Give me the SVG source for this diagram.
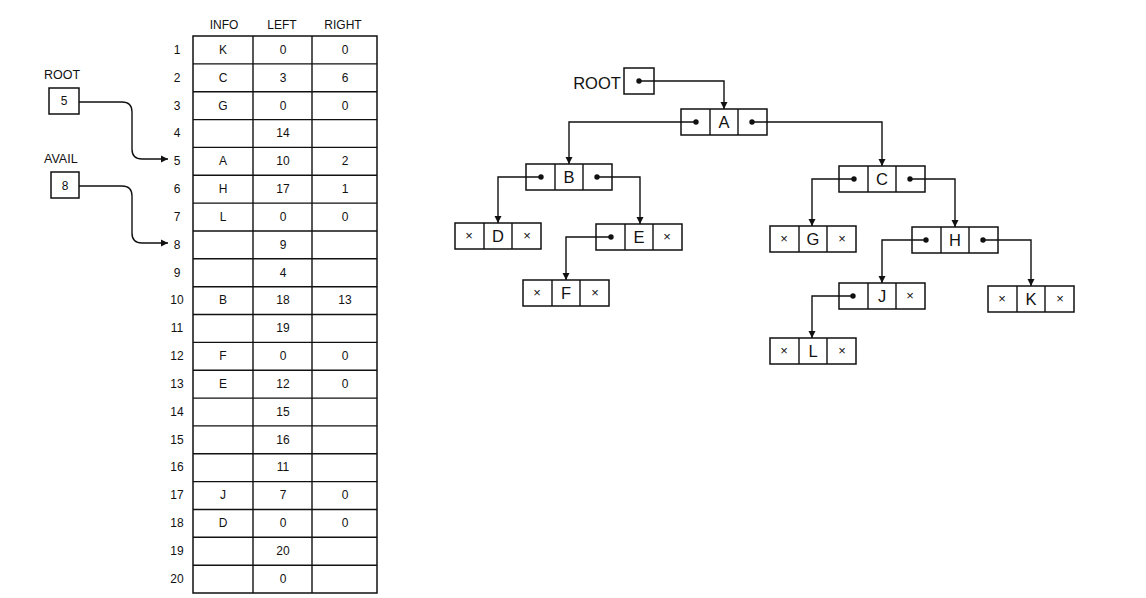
<svg xmlns="http://www.w3.org/2000/svg" width="1146" height="598" viewBox="0 0 1146 598">
<style>
text{font-family:"Liberation Sans",Arial,sans-serif;fill:#111}
.h{font-size:12px;text-anchor:middle}
.n{font-size:12px;text-anchor:middle}
.c{font-size:12px;text-anchor:middle}
.lbl{font-size:12.5px}
.t{font-size:16.5px;text-anchor:middle}
.x{font-size:13px;text-anchor:middle}
.box{fill:#fff;stroke:#111;stroke-width:1.5}
.ln{fill:none;stroke:#111;stroke-width:1.4}
.dot{fill:#111}
</style>
<defs>
<marker id="ah" viewBox="0 0 10 10" refX="10" refY="5" markerWidth="7" markerHeight="8" markerUnits="userSpaceOnUse" orient="auto">
<path d="M0,0 L10,5 L0,10 z" fill="#111"/>
</marker>
<g id="cells">
<rect class="box" x="0" y="0" width="86" height="26"/>
<line class="ln" x1="29" y1="0" x2="29" y2="26"/>
<line class="ln" x1="57" y1="0" x2="57" y2="26"/>
</g>
</defs>
<rect width="1146" height="598" fill="#fff"/>

<g id="table">
<text class="h" x="224" y="29">INFO</text>
<text class="h" x="282" y="29">LEFT</text>
<text class="h" x="343" y="29">RIGHT</text>
<rect x="193" y="36" width="184" height="557" fill="none" stroke="#111" stroke-width="1.5"/>
<line class="ln" x1="253" y1="36" x2="253" y2="593"/>
<line class="ln" x1="312" y1="36" x2="312" y2="593"/>
<g class="ln">
<line x1="193" y1="63.9" x2="377" y2="63.9"/>
<line x1="193" y1="91.7" x2="377" y2="91.7"/>
<line x1="193" y1="119.6" x2="377" y2="119.6"/>
<line x1="193" y1="147.4" x2="377" y2="147.4"/>
<line x1="193" y1="175.3" x2="377" y2="175.3"/>
<line x1="193" y1="203.1" x2="377" y2="203.1"/>
<line x1="193" y1="231" x2="377" y2="231"/>
<line x1="193" y1="258.8" x2="377" y2="258.8"/>
<line x1="193" y1="286.7" x2="377" y2="286.7"/>
<line x1="193" y1="314.5" x2="377" y2="314.5"/>
<line x1="193" y1="342.4" x2="377" y2="342.4"/>
<line x1="193" y1="370.2" x2="377" y2="370.2"/>
<line x1="193" y1="398.1" x2="377" y2="398.1"/>
<line x1="193" y1="425.9" x2="377" y2="425.9"/>
<line x1="193" y1="453.8" x2="377" y2="453.8"/>
<line x1="193" y1="481.6" x2="377" y2="481.6"/>
<line x1="193" y1="509.5" x2="377" y2="509.5"/>
<line x1="193" y1="537.3" x2="377" y2="537.3"/>
<line x1="193" y1="565.2" x2="377" y2="565.2"/>
</g>
<g class="n">
<text x="177" y="54">1</text><text x="177" y="82">2</text><text x="177" y="110">3</text><text x="177" y="137">4</text>
<text x="177" y="165">5</text><text x="177" y="193">6</text><text x="177" y="221">7</text><text x="177" y="249">8</text>
<text x="177" y="277">9</text><text x="177" y="304">10</text><text x="177" y="332">11</text><text x="177" y="360">12</text>
<text x="177" y="388">13</text><text x="177" y="416">14</text><text x="177" y="444">15</text><text x="177" y="471">16</text>
<text x="177" y="499">17</text><text x="177" y="527">18</text><text x="177" y="555">19</text><text x="177" y="583">20</text>
</g>
<g class="c">
<text x="223" y="54">K</text><text x="283" y="54">0</text><text x="345" y="54">0</text>
<text x="223" y="82">C</text><text x="283" y="82">3</text><text x="345" y="82">6</text>
<text x="223" y="110">G</text><text x="283" y="110">0</text><text x="345" y="110">0</text>
<text x="283" y="137">14</text>
<text x="223" y="165">A</text><text x="283" y="165">10</text><text x="345" y="165">2</text>
<text x="223" y="193">H</text><text x="283" y="193">17</text><text x="345" y="193">1</text>
<text x="223" y="221">L</text><text x="283" y="221">0</text><text x="345" y="221">0</text>
<text x="283" y="249">9</text>
<text x="283" y="277">4</text>
<text x="223" y="304">B</text><text x="283" y="304">18</text><text x="345" y="304">13</text>
<text x="283" y="332">19</text>
<text x="223" y="360">F</text><text x="283" y="360">0</text><text x="345" y="360">0</text>
<text x="223" y="388">E</text><text x="283" y="388">12</text><text x="345" y="388">0</text>
<text x="283" y="416">15</text>
<text x="283" y="444">16</text>
<text x="283" y="471">11</text>
<text x="223" y="499">J</text><text x="283" y="499">7</text><text x="345" y="499">0</text>
<text x="223" y="527">D</text><text x="283" y="527">0</text><text x="345" y="527">0</text>
<text x="283" y="555">20</text>
<text x="283" y="583">0</text>
</g>
</g>

<g id="root-ptr">
<text class="lbl" x="44" y="79">ROOT</text>
<rect class="box" x="49" y="88" width="30" height="26"/>
<text class="n" x="64" y="105">5</text>
</g>
<g id="avail-ptr">
<text class="lbl" x="44" y="163">AVAIL</text>
<rect class="box" x="51" y="172" width="28" height="26"/>
<text class="n" x="65" y="190">8</text>
</g>

<g id="tree-root">
<text class="t" x="597" y="89">ROOT</text>
<rect class="box" x="624" y="68" width="30" height="26"/>
<circle class="dot" cx="639" cy="81" r="2.7"/>
</g>

<g id="node-A"><use href="#cells" x="681" y="109"/><circle class="dot" cx="696" cy="122" r="2.7"/><text class="t" x="724" y="128">A</text><circle class="dot" cx="752" cy="122" r="2.7"/></g>
<g id="node-B"><use href="#cells" x="526" y="164"/><circle class="dot" cx="541" cy="177" r="2.7"/><text class="t" x="569" y="183">B</text><circle class="dot" cx="597" cy="177" r="2.7"/></g>
<g id="node-C"><use href="#cells" x="839" y="166"/><circle class="dot" cx="854" cy="179" r="2.7"/><text class="t" x="882" y="185">C</text><circle class="dot" cx="910" cy="179" r="2.7"/></g>
<g id="node-D"><use href="#cells" x="455" y="223"/><text class="x" x="469" y="240">×</text><text class="t" x="498" y="242">D</text><text class="x" x="527" y="240">×</text></g>
<g id="node-E"><use href="#cells" x="596" y="224"/><circle class="dot" cx="611" cy="237" r="2.7"/><text class="t" x="639" y="243">E</text><text class="x" x="667" y="241">×</text></g>
<g id="node-F"><use href="#cells" x="523" y="280"/><text class="x" x="537" y="297">×</text><text class="t" x="566" y="299">F</text><text class="x" x="595" y="297">×</text></g>
<g id="node-G"><use href="#cells" x="770" y="226"/><text class="x" x="784" y="243">×</text><text class="t" x="813" y="245">G</text><text class="x" x="842" y="243">×</text></g>
<g id="node-H"><use href="#cells" x="912" y="227"/><circle class="dot" cx="926" cy="240" r="2.7"/><text class="t" x="955" y="246">H</text><circle class="dot" cx="983" cy="240" r="2.7"/></g>
<g id="node-J"><use href="#cells" x="839" y="283"/><circle class="dot" cx="853" cy="296" r="2.7"/><text class="t" x="882" y="302">J</text><text class="x" x="910" y="300">×</text></g>
<g id="node-K"><use href="#cells" x="988" y="286"/><text class="x" x="1002" y="303">×</text><text class="t" x="1031" y="305">K</text><text class="x" x="1060" y="303">×</text></g>
<g id="node-L"><use href="#cells" x="770" y="338"/><text class="x" x="784" y="355">×</text><text class="t" x="813" y="357">L</text><text class="x" x="842" y="355">×</text></g>

<g id="connectors" class="ln">
<path d="M79,102 H122 Q132,102 132,112 V149 Q132,159 142,159 H168" marker-end="url(#ah)"/>
<path d="M79,186 H122 Q132,186 132,196 V233 Q132,243 142,243 H168" marker-end="url(#ah)"/>
<path d="M639,81 H724 V109" marker-end="url(#ah)"/>
<path d="M696,122 H569 V164" marker-end="url(#ah)"/>
<path d="M752,122 H882 V166" marker-end="url(#ah)"/>
<path d="M541,177 H498 V223" marker-end="url(#ah)"/>
<path d="M597,177 H640 V224" marker-end="url(#ah)"/>
<path d="M611,237 H566 V280" marker-end="url(#ah)"/>
<path d="M854,179 H812 V226" marker-end="url(#ah)"/>
<path d="M910,179 H955 V227" marker-end="url(#ah)"/>
<path d="M926,240 H882 V283" marker-end="url(#ah)"/>
<path d="M983,240 H1031 V286" marker-end="url(#ah)"/>
<path d="M853,296 H812 V338" marker-end="url(#ah)"/>
</g>
</svg>
